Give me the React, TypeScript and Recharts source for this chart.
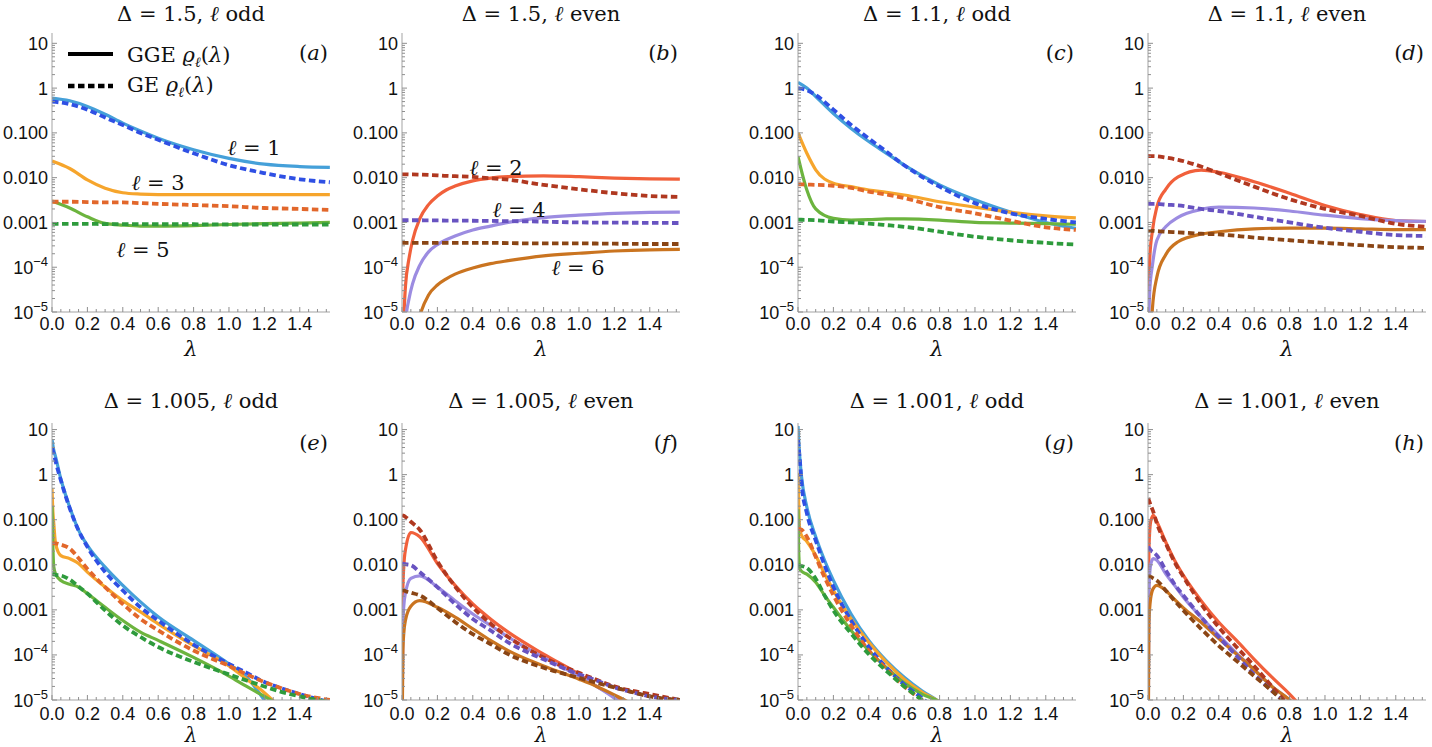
import React from 'react';
import { LineChart, Line, XAxis, YAxis } from 'recharts';

// lambda grids, one per panel
const lamA = [0, 0.1, 0.2, 0.3, 0.4, 0.5, 0.6, 0.8, 1.0, 1.2, 1.4, 1.57];
const lamB = [0, 0.02, 0.04, 0.06, 0.1, 0.15, 0.2, 0.25, 0.3, 0.4, 0.5, 0.6, 0.8, 1.0, 1.2, 1.4, 1.57];
const lamC = [0, 0.05, 0.1, 0.2, 0.3, 0.4, 0.5, 0.6, 0.8, 1.0, 1.2, 1.4, 1.57];
const lamD = [0, 0.01, 0.025, 0.05, 0.1, 0.17, 0.3, 0.4, 0.6, 0.8, 1.0, 1.2, 1.4, 1.57];
const lamE = [0, 0.005, 0.01, 0.02, 0.05, 0.1, 0.15, 0.2, 0.3, 0.4, 0.5, 0.6, 0.8, 1.0, 1.1, 1.2, 1.3, 1.4, 1.57];
const lamF = [0, 0.005, 0.01, 0.02, 0.05, 0.1, 0.2, 0.3, 0.4, 0.5, 0.6, 0.8, 1.0, 1.1, 1.2, 1.3, 1.4, 1.57];
const lamG = [0, 0.005, 0.01, 0.02, 0.05, 0.1, 0.15, 0.2, 0.3, 0.4, 0.5, 0.6, 0.7, 0.8, 0.9];
const lamH = [0, 0.005, 0.015, 0.03, 0.05, 0.1, 0.15, 0.2, 0.3, 0.4, 0.5, 0.6, 0.7, 0.8, 0.9];

// (a) Delta = 1.5, odd
const aGge1 = [0.6, 0.52, 0.39, 0.26, 0.165, 0.11, 0.076, 0.042, 0.027, 0.02, 0.0177, 0.017];
const aGe1 = [0.5, 0.44, 0.33, 0.22, 0.15, 0.1, 0.07, 0.035, 0.019, 0.0126, 0.0092, 0.0079];
const aGge3 = [0.0235, 0.016, 0.0089, 0.0058, 0.0046, 0.0043, 0.0042, 0.0042, 0.0042, 0.0042, 0.0042, 0.0042];
const aGe3 = [0.0029, 0.0029, 0.00285, 0.0028, 0.0028, 0.0027, 0.0026, 0.00245, 0.0023, 0.0021, 0.002, 0.0019];
const aGge5 = [0.003, 0.0021, 0.00134, 0.00095, 0.00087, 0.00083, 0.00083, 0.00085, 0.0009, 0.00094, 0.00097, 0.001];
const aGe5 = [0.00093, 0.00093, 0.00093, 0.00092, 0.00092, 0.00092, 0.00091, 0.00091, 0.0009, 0.0009, 0.0009, 0.0009];

// (b) Delta = 1.5, even
const bGge2 = [1e-6, 4e-5, 1.6e-4, 4e-4, 1.2e-3, 2.5e-3, 3.9e-3, 5.3e-3, 6.5e-3, 8.5e-3, 9.8e-3, 0.0105, 0.011, 0.0105, 0.0098, 0.0094, 0.0093];
const bGe2 = [0.0119, 0.0119, 0.0118, 0.0118, 0.0117, 0.0115, 0.0113, 0.011, 0.0108, 0.0104, 0.0097, 0.009, 0.0069, 0.0055, 0.0045, 0.0039, 0.0037];
const bGge4 = [1e-7, 6e-6, 2e-5, 4.3e-5, 1.1e-4, 2.2e-4, 3.2e-4, 4.1e-4, 5e-4, 6.8e-4, 8.3e-4, 1e-3, 1.28e-3, 1.45e-3, 1.6e-3, 1.68e-3, 1.7e-3];
const bGe4 = [0.00112, 0.00112, 0.00112, 0.00112, 0.00112, 0.00111, 0.00111, 0.0011, 0.0011, 0.00109, 0.00108, 0.00107, 0.00104, 0.001, 0.00099, 0.00098, 0.00097];
const bGge6 = [1e-8, 1e-7, 5e-7, 1.5e-6, 8e-6, 2.4e-5, 4e-5, 5.5e-5, 7e-5, 9.6e-5, 1.2e-4, 1.4e-4, 1.8e-4, 2.05e-4, 2.3e-4, 2.45e-4, 2.5e-4];
const bGe6 = [3.5e-4, 3.5e-4, 3.5e-4, 3.5e-4, 3.5e-4, 3.5e-4, 3.5e-4, 3.5e-4, 3.5e-4, 3.5e-4, 3.5e-4, 3.45e-4, 3.4e-4, 3.4e-4, 3.35e-4, 3.3e-4, 3.3e-4];

// (c) Delta = 1.1, odd
const cGge1 = [1.34, 1.0, 0.65, 0.27, 0.126, 0.064, 0.035, 0.019, 0.0069, 0.0032, 0.0017, 0.001, 0.00074];
const cGe1 = [1.0, 0.9, 0.7, 0.33, 0.15, 0.075, 0.038, 0.019, 0.0063, 0.0027, 0.0016, 0.0012, 0.001];
const cGge3 = [0.1, 0.035, 0.015, 0.0075, 0.0063, 0.0053, 0.0047, 0.0041, 0.0029, 0.0022, 0.0017, 0.0014, 0.00126];
const cGe3 = [0.0071, 0.007, 0.0069, 0.0066, 0.0059, 0.0049, 0.0042, 0.0035, 0.0022, 0.0016, 0.0011, 0.00078, 0.00068];
const cGge5 = [0.0296, 0.0053, 0.002, 0.00123, 0.00113, 0.00115, 0.0012, 0.0012, 0.00113, 0.001, 0.00097, 0.00094, 0.00091];
const cGe5 = [0.00115, 0.00114, 0.00112, 0.00105, 0.001, 0.00094, 0.00087, 0.0008, 0.00062, 0.00048, 0.0004, 0.00035, 0.00032];

// (d) Delta = 1.1, even
const dGge2 = [5e-6, 1.6e-4, 6.5e-4, 2.2e-3, 5.5e-3, 0.0104, 0.0148, 0.0132, 0.0081, 0.0045, 0.0024, 0.0015, 0.0011, 0.00105];
const dGe2 = [0.0305, 0.0304, 0.0302, 0.03, 0.028, 0.025, 0.0177, 0.0126, 0.0063, 0.0033, 0.002, 0.0014, 0.00093, 0.0008];
const dGge4 = [2e-6, 3e-5, 1.1e-4, 4e-4, 8e-4, 1.3e-3, 1.95e-3, 2.2e-3, 2.1e-3, 1.8e-3, 1.45e-3, 1.22e-3, 1.1e-3, 1.06e-3];
const dGe4 = [0.0026, 0.0026, 0.0026, 0.0026, 0.0025, 0.0024, 0.002, 0.0018, 0.00134, 0.001, 0.00076, 0.00062, 0.00052, 0.0005];
const dGge6 = [1e-7, 1e-6, 1.2e-5, 6e-5, 1.9e-4, 3.7e-4, 5.5e-4, 6.2e-4, 7.2e-4, 7.5e-4, 7.5e-4, 7.2e-4, 6.9e-4, 6.9e-4];
const dGe6 = [6.5e-4, 6.5e-4, 6.5e-4, 6.4e-4, 6.2e-4, 6e-4, 5.6e-4, 5.4e-4, 4.6e-4, 4e-4, 3.5e-4, 3.1e-4, 2.8e-4, 2.7e-4];

// (e) Delta = 1.005, odd
const eGge1 = [6, 4.5, 3.5, 2.5, 0.8, 0.19, 0.059, 0.027, 0.0089, 0.0035, 0.0015, 0.0007, 0.00021, 6.3e-5, 3.2e-5, 1e-5, 3e-6, 1e-6, 2e-7];
const eGe1 = [3.9, 3.4, 2.9, 2.0, 0.75, 0.18, 0.058, 0.025, 0.0069, 0.0027, 0.00114, 0.00058, 0.00017, 6.3e-5, 4e-5, 2.5e-5, 1.8e-5, 1.35e-5, 9e-6];
const eGge3 = [0.5, 0.15, 0.083, 0.03, 0.016, 0.0137, 0.0107, 0.0069, 0.0032, 0.0016, 0.0009, 0.00049, 0.00016, 5.7e-5, 2.9e-5, 1.45e-5, 6e-6, 2e-6, 5e-7];
const eGe3 = [0.03, 0.03, 0.03, 0.03, 0.028, 0.023, 0.014, 0.0081, 0.0032, 0.00135, 0.00063, 0.00035, 0.000125, 5.7e-5, 3.7e-5, 2.5e-5, 1.8e-5, 1.35e-5, 1e-5];
const eGge5 = [0.2, 0.025, 0.0089, 0.0063, 0.0045, 0.0037, 0.0032, 0.0023, 0.00114, 0.00058, 0.00032, 0.00021, 8.8e-5, 3.4e-5, 2e-5, 1.2e-5, 7e-6, 3e-6, 1e-6];
const eGe5 = [0.0063, 0.0062, 0.0061, 0.006, 0.0058, 0.0047, 0.0033, 0.0023, 0.00097, 0.00045, 0.00025, 0.00015, 7e-5, 3.7e-5, 2.7e-5, 2e-5, 1.5e-5, 1.2e-5, 9e-6];

// (f) Delta = 1.005, even
const fGge2 = [1e-6, 0.003, 0.009, 0.022, 0.052, 0.042, 0.0107, 0.0035, 0.00135, 0.00063, 0.00032, 0.000104, 3.7e-5, 2e-5, 1.2e-5, 6e-6, 2e-6, 5e-7];
const fGe2 = [0.126, 0.124, 0.122, 0.115, 0.09, 0.06, 0.012, 0.0033, 0.00114, 0.0005, 0.00025, 8.8e-5, 4e-5, 2.8e-5, 2e-5, 1.6e-5, 1.35e-5, 1e-5];
const fGge4 = [1e-6, 5e-4, 0.0012, 0.0024, 0.005, 0.0057, 0.0032, 0.0016, 0.00081, 0.00045, 0.00025, 8.8e-5, 3.4e-5, 2e-5, 1.1e-5, 5e-6, 2e-6, 5e-7];
const fGe4 = [0.0107, 0.0106, 0.0105, 0.0103, 0.0098, 0.0069, 0.0032, 0.00135, 0.00063, 0.00035, 0.00019, 8e-5, 3.7e-5, 2.7e-5, 1.9e-5, 1.5e-5, 1.2e-5, 1e-5];
const fGge6 = [1e-6, 1.3e-4, 3e-4, 6e-4, 1.2e-3, 1.6e-3, 1.14e-3, 6.9e-4, 3.8e-4, 2.1e-4, 1.25e-4, 5.7e-5, 2.9e-5, 2e-5, 1.3e-5, 8e-6, 4e-6, 1e-6];
const fGe6 = [0.0027, 0.0027, 0.0027, 0.0026, 0.0024, 0.0021, 0.0011, 5.4e-4, 2.9e-4, 1.75e-4, 1.04e-4, 5.2e-5, 3.1e-5, 2.4e-5, 1.9e-5, 1.5e-5, 1.2e-5, 1e-5];

// (g) Delta = 1.001, odd
const gGge1 = [12, 5, 2.5, 0.9, 0.19, 0.042, 0.0126, 0.0045, 0.00081, 0.00021, 7.4e-5, 3.2e-5, 1.6e-5, 9e-6, 4e-6];
const gGe1 = [6, 3.5, 2.2, 0.64, 0.14, 0.035, 0.0098, 0.0032, 0.00058, 0.00015, 5.2e-5, 2.2e-5, 1.1e-5, 5e-6, 2e-6];
const gGge3 = [1.1, 0.14, 0.059, 0.045, 0.033, 0.016, 0.0063, 0.0027, 0.00063, 0.00019, 6.8e-5, 2.9e-5, 1.5e-5, 9e-6, 4e-6];
const gGe3 = [0.064, 0.063, 0.062, 0.06, 0.042, 0.015, 0.0053, 0.0021, 0.00045, 0.000125, 4.9e-5, 2e-5, 1e-5, 5e-6, 2e-6];
const gGge5 = [0.17, 0.015, 0.0083, 0.0072, 0.0062, 0.0041, 0.0021, 0.00114, 0.00035, 0.000125, 5.2e-5, 2.4e-5, 1.35e-5, 9e-6, 4e-6];
const gGe5 = [0.0098, 0.0097, 0.0096, 0.0094, 0.0085, 0.0049, 0.0021, 0.00097, 0.0003, 0.000104, 4.4e-5, 2e-5, 1e-5, 5e-6, 2e-6];

// (h) Delta = 1.001, even
const hGge2 = [1e-6, 0.02, 0.09, 0.125, 0.09, 0.032, 0.0126, 0.0058, 0.0016, 5.3e-4, 2.1e-4, 8e-5, 3.2e-5, 1.35e-5, 5e-6];
const hGe2 = [0.3, 0.27, 0.21, 0.15, 0.083, 0.03, 0.0115, 0.0054, 0.00135, 4.1e-4, 1.5e-4, 5.7e-5, 2e-5, 7e-6, 2e-6];
const hGge4 = [1e-7, 0.0025, 0.01, 0.0137, 0.0126, 0.0063, 0.0035, 0.0019, 6.9e-4, 2.7e-4, 1.1e-4, 4.7e-5, 2e-5, 1e-5, 4e-6];
const hGe4 = [0.025, 0.024, 0.021, 0.019, 0.016, 0.0076, 0.0037, 0.0021, 6.9e-4, 2.5e-4, 9.6e-5, 3.7e-5, 1.6e-5, 7e-6, 3e-6];
const hGge6 = [1e-7, 5e-4, 0.0018, 0.003, 0.0035, 0.0027, 0.0017, 0.0011, 5.3e-4, 2.3e-4, 1.04e-4, 4.7e-5, 2e-5, 1e-5, 4e-6];
const hGe6 = [0.0059, 0.0057, 0.0054, 0.005, 0.0045, 0.0027, 0.0016, 9.7e-4, 3.8e-4, 1.6e-4, 7.4e-5, 3.4e-5, 1.6e-5, 7e-6, 3e-6];

const C = {
  l1: '#45a0d9', l1d: '#2f50e4',
  l3: '#f6a52c', l3d: '#e2672b',
  l5: '#6cb43e', l5d: '#2e9b3c',
  l2: '#f1603b', l2d: '#b03820',
  l4: '#9c8ce1', l4d: '#6853c1',
  l6: '#ca7420', l6d: '#8a4515',
};

const FRAME = '#a3a3a3';
const TICK = '#8f8f8f';
const SANS = "'Liberation Sans', Arimo, Arial, 'DejaVu Sans', sans-serif";
const SERIF = "'DejaVu Serif', 'Liberation Serif', Tinos, 'Times New Roman', serif";
const sansStyle = { fontFamily: SANS };
const serifStyle = { fontFamily: SERIF };

const LMAX = Math.PI / 2;
const PW = 278;
const xTicks = Array.from({ length: 32 }, (_, i) => Math.round(i * 5) / 100);
const makeYTicks = (top: number) => {
  const t: number[] = [];
  for (let e = -5; e <= 1; e++) {
    for (let m = 1; m <= 9; m++) {
      const v = Number((m * Math.pow(10, e)).toPrecision(2));
      if (v <= top) t.push(v);
    }
  }
  return t;
};

const isMajorX = (v: number) => Math.abs(v * 5 - Math.round(v * 5)) < 1e-6;
const isMajorY = (v: number) => {
  const l = Math.log10(v);
  return Math.abs(l - Math.round(l)) < 1e-6;
};

const XTick = (props: any) => {
  const { x, y, payload, side, gap } = props;
  const v = payload.value;
  const major = isMajorX(v);
  const len = major ? 5 : 3;
  const dir = side === 'bottom' ? -1 : 1;
  return (
    <g>
      <line x1={x} x2={x} y1={y} y2={y + dir * len} stroke={TICK} strokeWidth={1} />
      {side === 'bottom' && major ? (
        <text x={x} y={y + gap} textAnchor="middle" style={sansStyle} fontSize={18} fill="#111">
          {v.toFixed(1)}
        </text>
      ) : null}
    </g>
  );
};

const YTick = (props: any) => {
  const { x, y, payload, side } = props;
  const v = payload.value;
  const major = isMajorY(v);
  const len = major ? 5 : 3;
  const dir = side === 'left' ? 1 : -1;
  const e = Math.round(Math.log10(v));
  let label = null;
  if (side === 'left' && major) {
    label = e <= -4 ? (
      <text x={x - 4} y={y + 6.5} textAnchor="end" style={sansStyle} fontSize={18} fill="#111">
        <tspan>10</tspan>
        <tspan fontSize={13} dy={-8}>{'\u2212' + -e}</tspan>
      </text>
    ) : (
      <text x={x - 4} y={y + 6.5} textAnchor="end" style={sansStyle} fontSize={18} fill="#111">
        {e >= 0 ? String(Math.round(Math.pow(10, e))) : Math.pow(10, e).toFixed(3)}
      </text>
    );
  }
  return (
    <g>
      <line x1={x} x2={x + dir * len} y1={y} y2={y} stroke={TICK} strokeWidth={1} />
      {label}
    </g>
  );
};

type Series = { y: number[]; color: string; dashed: boolean };
type PanelCfg = { id: string; left: number; top: number; h: number; yTop: number; gap: number; lam: number[]; series: Series[] };

const s = (y: number[], color: string, dashed = false): Series => ({ y, color, dashed });

const panels: PanelCfg[] = [
  { id: 'a', left: 52, top: 33, h: 279, yTop: 17, gap: 18, lam: lamA,
    series: [s(aGge1, C.l1), s(aGge3, C.l3), s(aGge5, C.l5), s(aGe1, C.l1d, true), s(aGe3, C.l3d, true), s(aGe5, C.l5d, true)] },
  { id: 'b', left: 402, top: 33, h: 279, yTop: 17, gap: 18, lam: lamB,
    series: [s(bGge2, C.l2), s(bGge4, C.l4), s(bGge6, C.l6), s(bGe2, C.l2d, true), s(bGe4, C.l4d, true), s(bGe6, C.l6d, true)] },
  { id: 'c', left: 798, top: 33, h: 279, yTop: 17, gap: 18, lam: lamC,
    series: [s(cGge1, C.l1), s(cGge3, C.l3), s(cGge5, C.l5), s(cGe1, C.l1d, true), s(cGe3, C.l3d, true), s(cGe5, C.l5d, true)] },
  { id: 'd', left: 1148, top: 33, h: 279, yTop: 17, gap: 18, lam: lamD,
    series: [s(dGge2, C.l2), s(dGge4, C.l4), s(dGge6, C.l6), s(dGe2, C.l2d, true), s(dGe4, C.l4d, true), s(dGe6, C.l6d, true)] },
  { id: 'e', left: 52, top: 423, h: 277, yTop: 14, gap: 19.5, lam: lamE,
    series: [s(eGge1, C.l1), s(eGge3, C.l3), s(eGge5, C.l5), s(eGe1, C.l1d, true), s(eGe3, C.l3d, true), s(eGe5, C.l5d, true)] },
  { id: 'f', left: 402, top: 423, h: 277, yTop: 14, gap: 19.5, lam: lamF,
    series: [s(fGge2, C.l2), s(fGge4, C.l4), s(fGge6, C.l6), s(fGe2, C.l2d, true), s(fGe4, C.l4d, true), s(fGe6, C.l6d, true)] },
  { id: 'g', left: 798, top: 423, h: 277, yTop: 14, gap: 19.5, lam: lamG,
    series: [s(gGge1, C.l1), s(gGge3, C.l3), s(gGge5, C.l5), s(gGe1, C.l1d, true), s(gGe3, C.l3d, true), s(gGe5, C.l5d, true)] },
  { id: 'h', left: 1148, top: 423, h: 277, yTop: 14, gap: 19.5, lam: lamH,
    series: [s(hGge2, C.l2), s(hGge4, C.l4), s(hGge6, C.l6), s(hGe2, C.l2d, true), s(hGe4, C.l4d, true), s(hGe6, C.l6d, true)] },
];

const titles = [
  ['1.5', 'odd'], ['1.5', 'even'], ['1.1', 'odd'], ['1.1', 'even'],
  ['1.005', 'odd'], ['1.005', 'even'], ['1.001', 'odd'], ['1.001', 'even'],
];

const Panel = ({ p }: { p: PanelCfg }) => {
  const yTicks = makeYTicks(p.yTop);
  return (
    <div style={{ position: 'absolute', left: p.left - 60, top: p.top - 10 }}>
      <LineChart width={60 + PW + 5} height={10 + p.h + 45} margin={{ top: 10, right: 5, bottom: 0, left: 0 }}>
        <XAxis xAxisId="b" dataKey="x" type="number" domain={[0, LMAX]} allowDataOverflow ticks={xTicks} interval={0}
          height={45} tickSize={0} tickMargin={0} tickLine={false} axisLine={{ stroke: FRAME }}
          tick={<XTick side="bottom" gap={p.gap} />} />
        <XAxis xAxisId="t" orientation="top" dataKey="x" type="number" domain={[0, LMAX]} allowDataOverflow ticks={xTicks} interval={0}
          height={0} tickSize={0} tickMargin={0} tickLine={false} axisLine={{ stroke: FRAME }}
          tick={<XTick side="top" gap={0} />} />
        <YAxis yAxisId="l" type="number" scale="log" domain={[1e-5, p.yTop]} allowDataOverflow ticks={yTicks} interval={0}
          width={60} tickSize={0} tickMargin={0} tickLine={false} axisLine={{ stroke: FRAME }}
          tick={<YTick side="left" />} />
        <YAxis yAxisId="r" orientation="right" type="number" scale="log" domain={[1e-5, p.yTop]} allowDataOverflow ticks={yTicks} interval={0}
          width={0} tickSize={0} tickMargin={0} tickLine={false} axisLine={{ stroke: FRAME }}
          tick={<YTick side="right" />} />
        {p.series.map((sr, i) => (
          <Line key={i} xAxisId="b" yAxisId="l" type="monotone"
            data={p.lam.map((x, k) => ({ x, y: sr.y[k] }))} dataKey="y"
            stroke={sr.color} strokeWidth={sr.dashed ? 3.8 : 3.2}
            strokeDasharray={sr.dashed ? '6.5 3.5' : undefined}
            dot={false} activeDot={false} isAnimationActive={false} />
        ))}
      </LineChart>
    </div>
  );
};

const Ell = ({ x, y, n }: { x: number; y: number; n: number }) => (
  <text x={x} y={y} textAnchor="middle" style={serifStyle} fontSize={21} fill="#111">
    <tspan fontStyle="italic">ℓ</tspan> = {n}
  </text>
);

const Rho = () => (
  <>
    <tspan fontStyle="italic">ϱ</tspan>
    <tspan fontStyle="italic" fontSize={14} dy={5}>ℓ</tspan>
    <tspan dy={-5}>(</tspan>
    <tspan fontStyle="italic">λ</tspan>
    <tspan>)</tspan>
  </>
);

export default function App() {
  return (
    <div style={{ position: 'absolute', left: 0, top: 0, width: 1432, height: 747, background: '#fff', overflow: 'hidden' }}>
      {panels.map((p) => (
        <Panel key={p.id} p={p} />
      ))}
      <svg width={1432} height={747} style={{ position: 'absolute', left: 0, top: 0, pointerEvents: 'none' }}>
        {panels.map((p, i) => {
          const cx = p.left + PW / 2;
          const row = i < 4 ? 0 : 1;
          return (
            <g key={p.id}>
              <text x={cx} y={row === 0 ? 21 : 408} textAnchor="middle" style={serifStyle} fontSize={21} fill="#111">
                <tspan>Δ = {titles[i][0]}, </tspan>
                <tspan fontStyle="italic">ℓ</tspan>
                <tspan> {titles[i][1]}</tspan>
              </text>
              <text x={cx} y={row === 0 ? 356 : 742} textAnchor="middle" style={serifStyle} fontStyle="italic"
                fontSize={row === 0 ? 21 : 20} fill="#111">
                λ
              </text>
              <text x={p.left + PW - 2} y={p.top + 27} textAnchor="end" style={serifStyle} fontSize={21} fill="#111">
                (<tspan fontStyle="italic">{p.id}</tspan>)
              </text>
            </g>
          );
        })}
        {/* legend, panel (a) */}
        <line x1={68} x2={113} y1={54} y2={54} stroke="#000" strokeWidth={4} />
        <line x1={68} x2={113} y1={86} y2={86} stroke="#000" strokeWidth={4.5} strokeDasharray="6.5 3.5" />
        <text x={127} y={62} style={serifStyle} fontSize={21} fill="#111">
          <tspan>GGE </tspan>
          <Rho />
        </text>
        <text x={127} y={92} style={serifStyle} fontSize={21} fill="#111">
          <tspan>GE </tspan>
          <Rho />
        </text>
        <Ell x={254} y={155} n={1} />
        <Ell x={158} y={190} n={3} />
        <Ell x={143} y={257} n={5} />
        <Ell x={496} y={175} n={2} />
        <Ell x={519} y={217} n={4} />
        <Ell x={578} y={275} n={6} />
      </svg>
    </div>
  );
}
